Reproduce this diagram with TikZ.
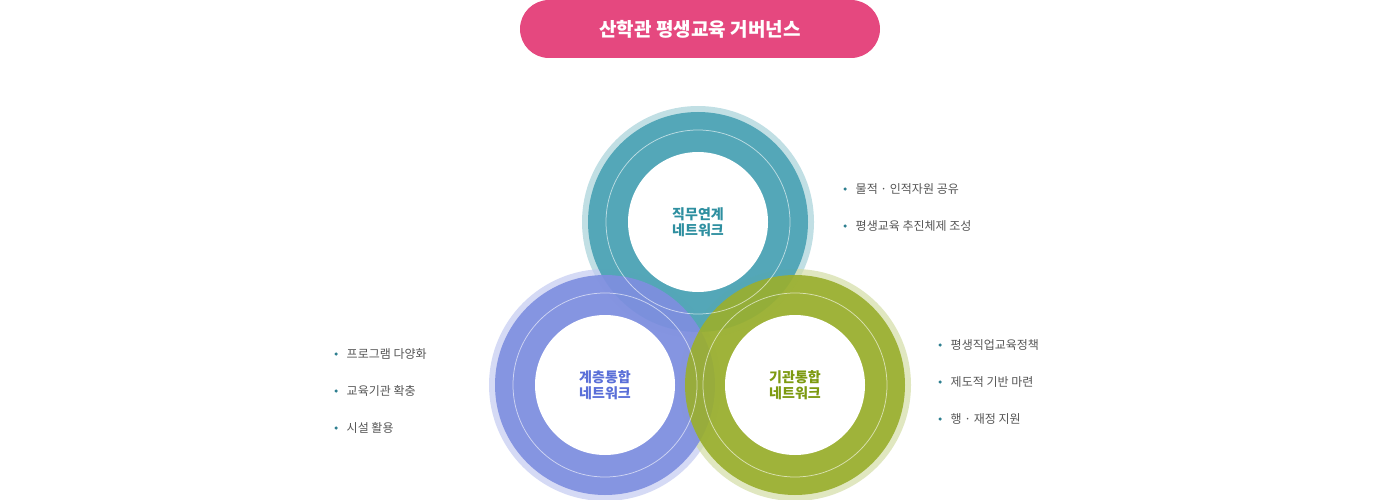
\documentclass[tikz,border=0pt]{standalone}
\usepackage{fontspec}
\setmainfont{Noto Sans CJK KR}
\definecolor{pinkT}{HTML}{E5487F}
\definecolor{tealR}{HTML}{4BA3B4}
\definecolor{tealL}{HTML}{A6D2D9}
\definecolor{tealT}{HTML}{2E8FA0}
\definecolor{blueR}{HTML}{7F8FE0}
\definecolor{blueL}{HTML}{C3CAF1}
\definecolor{blueT}{HTML}{5A6FD8}
\definecolor{greenR}{HTML}{9AAF2F}
\definecolor{greenL}{HTML}{D3DDA5}
\definecolor{greenT}{HTML}{7D9A10}
\definecolor{txt}{HTML}{555555}
\definecolor{dot}{HTML}{2E7F90}
\tikzset{every picture/.style={line width=0.75pt}}
\tikzset{
  ring/.style={circle, draw=none, minimum size=220, inner sep=0, opacity=0.92},
  halo/.style={circle, draw=none, minimum size=232, inner sep=0, opacity=0.7},
  hub/.style={circle, fill=white, minimum size=140, inner sep=0, align=center, font=\bfseries\fontsize{14}{16}\selectfont},
  thin/.style={circle, draw=white, opacity=0.6, minimum size=184, inner sep=0},
  item/.style={anchor=west, text=txt, font=\fontsize{12}{14}\selectfont},
  bul/.style={circle, fill=dot, minimum size=3.5, inner sep=0}
}
\begin{document}
\begin{tikzpicture}[x=1pt,y=1pt,yscale=-1]
	\useasboundingbox (0,0) rectangle (1400,500);

	% title
	\node (title) [fill=pinkT, rounded corners=29, minimum width=360, minimum height=58, text=white, font=\bfseries\fontsize{19}{22}\selectfont] at (700,29) {산학관 평생교육 거버넌스};

	% halos and rings
	\node (haloA) [halo, fill=tealL] at (698,222) {};
	\node (haloB) [halo, fill=blueL] at (605,385) {};
	\node (haloC) [halo, fill=greenL] at (795,385) {};
	\node (ringA) [ring, fill=tealR] at (698,222) {};
	\node (ringB) [ring, fill=blueR] at (605,385) {};
	\node (ringC) [ring, fill=greenR] at (795,385) {};
	\node (lineA) [thin] at (698,222) {};
	\node (lineB) [thin] at (605,385) {};
	\node (lineC) [thin] at (795,385) {};

	% hubs
	\node (jobs) [hub, text=tealT] at (698,222) {직무연계\\네트워크};
	\node (tier) [hub, text=blueT] at (605,385) {계층통합\\네트워크};
	\node (inst) [hub, text=greenT] at (795,385) {기관통합\\네트워크};

	% lists
	\foreach \t [count=\i] in {물적 · 인적자원 공유, 평생교육 추진체제 조성}{
	  \node (bA\i) [bul] at (845,{152+37*\i}) {};
	  \node (iA\i) [item] at (852,{152+37*\i}) {\t};
	}
	\foreach \t [count=\i] in {프로그램 다양화, 교육기관 확충, 시설 활용}{
	  \node (bB\i) [bul] at (336,{317+37*\i}) {};
	  \node (iB\i) [item] at (343,{317+37*\i}) {\t};
	}
	\foreach \t [count=\i] in {평생직업교육정책, 제도적 기반 마련, 행 · 재정 지원}{
	  \node (bC\i) [bul] at (940,{308+37*\i}) {};
	  \node (iC\i) [item] at (947,{308+37*\i}) {\t};
	}
\end{tikzpicture}
\end{document}
